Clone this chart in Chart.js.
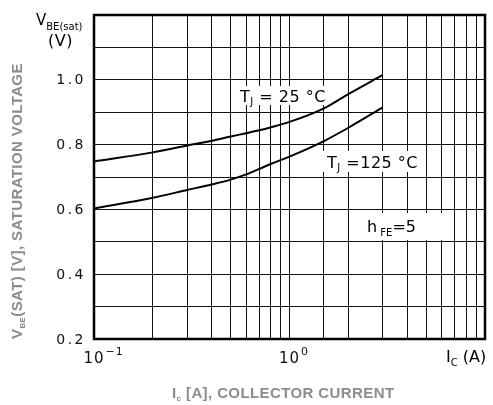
<!DOCTYPE html>
<html>
<head>
<meta charset="utf-8">
<script src="https://cdn.jsdelivr.net/npm/chart.js@4/dist/chart.umd.min.js"></script>
<style>
  html, body { margin: 0; padding: 0; background: #fff; }
  #wrap { width: 493px; height: 405px; position: relative; }
</style>
</head>
<body>
<div id="wrap"><canvas id="vbeChart"></canvas></div>
<script>
'use strict';

/* ── data ── */
const icAmps   = [0.1, 0.2, 0.3, 0.4, 0.5, 0.6, 0.7, 0.8, 1.0, 1.5, 2.0, 3.0];
const vbe25C   = [0.748, 0.776, 0.797, 0.812, 0.825, 0.835, 0.844, 0.853, 0.870, 0.912, 0.956, 1.015];
const vbe125C  = [0.603, 0.636, 0.660, 0.677, 0.692, 0.708, 0.725, 0.740, 0.763, 0.811, 0.852, 0.915];

const yTickLabels = ['0.2', '0.4', '0.6', '0.8', '1.0'];
const xDecades    = [0.1, 1];
const xDecadeExps = ['\u22121', '0'];

const FONT       = '"DejaVu Sans", Verdana, sans-serif';
const TITLE_FONT = '"Liberation Sans", Arial, sans-serif';

function pts(xs, ys) { return xs.map((x, i) => ({ x, y: ys[i] })); }

/* draw a run of text pieces: [{t, size, dy}] */
function rich(ctx, parts, x, y, spacing, family, weight) {
  ctx.letterSpacing = (spacing || 0) + 'px';
  parts.forEach(p => {
    ctx.font = (weight || '') + ' ' + p.size + 'px ' + (family || FONT);
    ctx.fillText(p.t, x, y + (p.dy || 0));
    x += ctx.measureText(p.t).width;
  });
  ctx.letterSpacing = '0px';
  return x;
}

function whiteBox(ctx, x, y, w, h) {
  ctx.fillStyle = '#fff';
  ctx.fillRect(x, y, w, h);
}

const annotate = {
  id: 'annotate',
  beforeDatasetsDraw(chart) {
    const ctx = chart.ctx;
    ctx.save();
    whiteBox(ctx, 236, 86, 90, 19);
    whiteBox(ctx, 323, 151, 99, 21);
    whiteBox(ctx, 358, 213, 84, 27);
    ctx.fillStyle = '#000';
    ctx.textBaseline = 'alphabetic';
    ctx.textAlign = 'left';
    rich(ctx, [{ t: 'T', size: 16 }, { t: 'J', size: 10, dy: 3 }, { t: ' = 25 \u00B0C', size: 16 }], 240, 102, 0.5);
    rich(ctx, [{ t: 'T', size: 16 }, { t: 'J', size: 10, dy: 3 }, { t: ' =125 \u00B0C', size: 16 }], 327, 168, 0.5);
    rich(ctx, [{ t: 'h', size: 16 }, { t: ' FE', size: 10, dy: 4 }, { t: '=5', size: 16 }], 367, 232, 0);
    ctx.restore();
  },
  afterDraw(chart) {
    const ctx = chart.ctx;
    const a = chart.chartArea;
    const xs = chart.scales.x, ys = chart.scales.y;
    ctx.save();

    /* frame */
    ctx.strokeStyle = '#000';
    ctx.lineWidth = 2.5;
    ctx.strokeRect(a.left, a.top, a.right - a.left, a.bottom - a.top);

    /* y tick labels */
    ctx.fillStyle = '#111';
    ctx.textAlign = 'right';
    ctx.textBaseline = 'middle';
    ctx.font = '14px ' + FONT;
    ctx.letterSpacing = '2.5px';
    yTickLabels.forEach(l => {
      ctx.fillText(l, a.left - 8, ys.getPixelForValue(parseFloat(l)) + 1);
    });
    ctx.letterSpacing = '0px';

    /* x tick labels: 10 centred on the gridline, exponent to the right */
    ctx.textAlign = 'left';
    ctx.textBaseline = 'alphabetic';
    xDecades.forEach((v, i) => {
      const px = xs.getPixelForValue(v);
      ctx.font = '15px ' + FONT;
      ctx.letterSpacing = '1px';
      const w = ctx.measureText('10').width;
      ctx.fillText('10', px - w / 2, 363);
      ctx.font = '11px ' + FONT;
      ctx.fillText(xDecadeExps[i], px + w / 2 + 1, 355);
      ctx.letterSpacing = '0px';
    });

    /* corner units */
    ctx.fillStyle = '#000';
    rich(ctx, [{ t: 'V', size: 15 }, { t: 'BE(sat)', size: 10, dy: 5 }], 36, 25, 0);
    rich(ctx, [{ t: '(V)', size: 16 }], 48, 46, 0.5);
    rich(ctx, [{ t: 'I', size: 16 }, { t: 'C', size: 10, dy: 4 }, { t: ' (A)', size: 16 }], 446, 362, 0);

    /* axis titles, grey and a little soft */
    ctx.fillStyle = '#8c8c8c';
    ctx.filter = 'blur(0.5px)';
    rich(ctx, [
      { t: 'I', size: 15 }, { t: 'c', size: 8, dy: 3 }, { t: ' [A], COLLECTOR CURRENT', size: 15 }
    ], 172, 398, 0.4, TITLE_FONT, 'bold');

    ctx.save();
    ctx.translate(22, 339);
    ctx.rotate(-Math.PI / 2);
    rich(ctx, [
      { t: 'V', size: 15 }, { t: 'BE', size: 8, dy: 3 }, { t: '(SAT) [V], SATURATION VOLTAGE', size: 15 }
    ], 0, 0, 0.4, TITLE_FONT, 'bold');
    ctx.restore();
    ctx.filter = 'none';

    ctx.restore();
  }
};

new Chart(document.getElementById('vbeChart'), {
  type: 'line',
  data: {
    datasets: [
      { label: 'TJ = 25 °C',  data: pts(icAmps, vbe25C),  borderColor: '#000', borderWidth: 2,
        pointRadius: 0, cubicInterpolationMode: 'monotone', fill: false },
      { label: 'TJ = 125 °C', data: pts(icAmps, vbe125C), borderColor: '#000', borderWidth: 2,
        pointRadius: 0, cubicInterpolationMode: 'monotone', fill: false }
    ]
  },
  options: {
    responsive: true,
    maintainAspectRatio: false,
    animation: false,
    devicePixelRatio: 1,
    layout: { padding: { left: 94, top: 15, right: 8, bottom: 66 } },
    plugins: { legend: { display: false }, tooltip: { enabled: false } },
    scales: {
      x: {
        type: 'logarithmic', min: 0.1, max: 10,
        ticks: { display: false },
        grid: { color: '#111', lineWidth: 1, drawTicks: false },
        border: { display: false },
        afterFit: s => { s.height = 0; }
      },
      y: {
        type: 'linear', min: 0.2, max: 1.2,
        ticks: { display: false, stepSize: 0.1 },
        grid: { color: '#111', lineWidth: 1, drawTicks: false },
        border: { display: false },
        afterFit: s => { s.width = 0; }
      }
    }
  },
  plugins: [annotate]
});
</script>
</body>
</html>
